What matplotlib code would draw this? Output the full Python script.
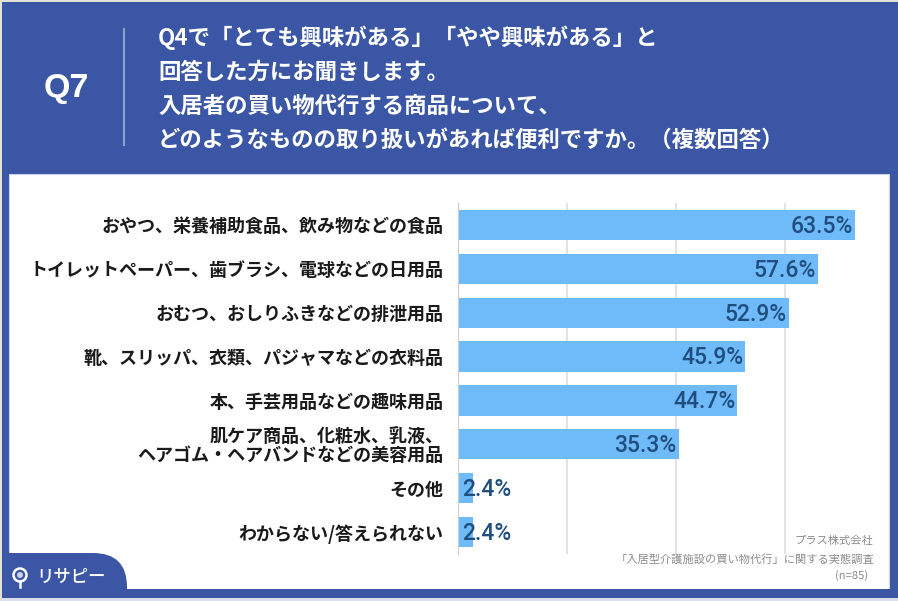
import numpy as np
import matplotlib.pyplot as plt
from matplotlib.patches import Rectangle, FancyBboxPatch, Circle

plt.rcParams['font.family'] = ['Noto Sans CJK JP', 'DejaVu Sans']

# Chart data
categories = ["おやつ、栄養補助食品、飲み物などの食品",
              "トイレットペーパー、歯ブラシ、電球などの日用品",
              "おむつ、おしりふきなどの排泄用品",
              "靴、スリッパ、衣類、パジャマなどの衣料品",
              "本、手芸用品などの趣味用品",
              "肌ケア商品、化粧水、乳液、\nヘアゴム・ヘアバンドなどの美容用品",
              "その他",
              "わからない/答えられない"]
values = [63.5, 57.6, 52.9, 45.9, 44.7, 35.3, 2.4, 2.4]
grid_ticks = [17.44, 34.88, 52.32]  # no tick labels in the picture

# Header text
question_no = "Q7"
question = ["Q4で「とても興味がある」「やや興味がある」と",
            "回答した方にお聞きします。",
            "入居者の買い物代行する商品について、",
            "どのようなものの取り扱いがあれば便利ですか。（複数回答）"]
source = ["プラス株式会社", "「入居型介護施設の買い物代行」に関する実態調査", "(n=85)"]
logo_text = "リサピー"

W = 898
H = 601
blue = '#3A56A5'

plt.figure(figsize=(W / 100, H / 100), dpi=100, facecolor=blue)

# Background in pixel coordinates
bg = plt.axes([0, 0, 1, 1])
bg.set_xlim(0, W)
bg.set_ylim(H, 0)
bg.axis('off')
bg.add_patch(Rectangle((9, 174), 880, 415, facecolor='white', edgecolor='#C9D3EA', linewidth=0.8))
bg.add_patch(FancyBboxPatch((-30, 553), 157, 80, boxstyle="round,pad=0,rounding_size=34",
                            facecolor=blue, edgecolor='none'))
bg.add_patch(Rectangle((0, 589), W, 12, facecolor=blue, edgecolor='none'))
bg.add_patch(Rectangle((0, 0), 1.5, H, facecolor='#E4E2D6', edgecolor='none'))
bg.add_patch(Rectangle((0, 0), W, 1.5, facecolor='#E4E2D6', edgecolor='none'))
bg.add_patch(Rectangle((0, 598), W, 3, facecolor='#D9DEEC', edgecolor='none'))
bg.plot([124, 124], [29, 145], color='#8E9FCB', linewidth=1.5)
bg.text(66, 89, question_no, color='white', fontsize=24.5, fontweight='bold', family='Liberation Sans',
        ha='center', va='center')
for i, line in enumerate(question):
    bg.text(158, 37.5 + i * 34.4, line, color='white', fontsize=16.15, fontweight='bold', va='center')
bg.add_patch(Circle((20, 575), 6.5, facecolor='none', edgecolor='white', linewidth=1.8))
bg.add_patch(Circle((20, 575), 3, facecolor='#C9D3EA', edgecolor='none'))
bg.plot([20, 20], [581, 587], color='white', linewidth=1.8)
bg.text(36, 577, logo_text, color='white', fontsize=12.5, fontweight='medium', va='center')
bg.text(873, 541, source[0], color='#8C8C8C', fontsize=8.1, ha='right', va='center')
bg.text(874, 559, source[1], color='#8C8C8C', fontsize=8.1, ha='right', va='center')
bg.text(868, 576, source[2], color='#8C8C8C', fontsize=8.1, ha='right', va='center')

# Bars, axes placed from the pixel positions in the picture
ax = plt.axes([458 / W, 1 - 554 / H, 402 / W, 351 / H])
ax.patch.set_alpha(0)
y = np.arange(len(values))
ax.barh(y, values, height=0.69, color='#6FBBFA', zorder=2)
ax.set_xlim(0, 402 / 6.25)
ax.set_ylim(7.5, -0.5)
ax.set_xticks(grid_ticks)
ax.set_xticklabels([])
ax.set_yticks(y)
ax.set_yticklabels(categories, fontsize=13, fontweight='bold', color='#1A1A1A', linespacing=1.0)
ax.tick_params(axis='both', length=0, pad=10.5)
ax.grid(axis='x', color='#DDDDDD', linewidth=1.2, zorder=1)
for side in ['top', 'right', 'bottom']:
    ax.spines[side].set_visible(False)
ax.spines['left'].set_color('#CCCCCC')

for i, v in enumerate(values):
    if v > 10:
        ax.text(v - 0.3, i + 0.03, f"{v}%", color='#1F4E7F', fontsize=16.5, fontweight='medium', family='Roboto',
                ha='right', va='center', zorder=3)
    else:
        ax.text(0.6, i + 0.03, f"{v}%", color='#1F4E7F', fontsize=16.5, fontweight='medium', family='Roboto',
                ha='left', va='center', zorder=3)

plt.savefig('out.png', dpi=100, facecolor=blue)
